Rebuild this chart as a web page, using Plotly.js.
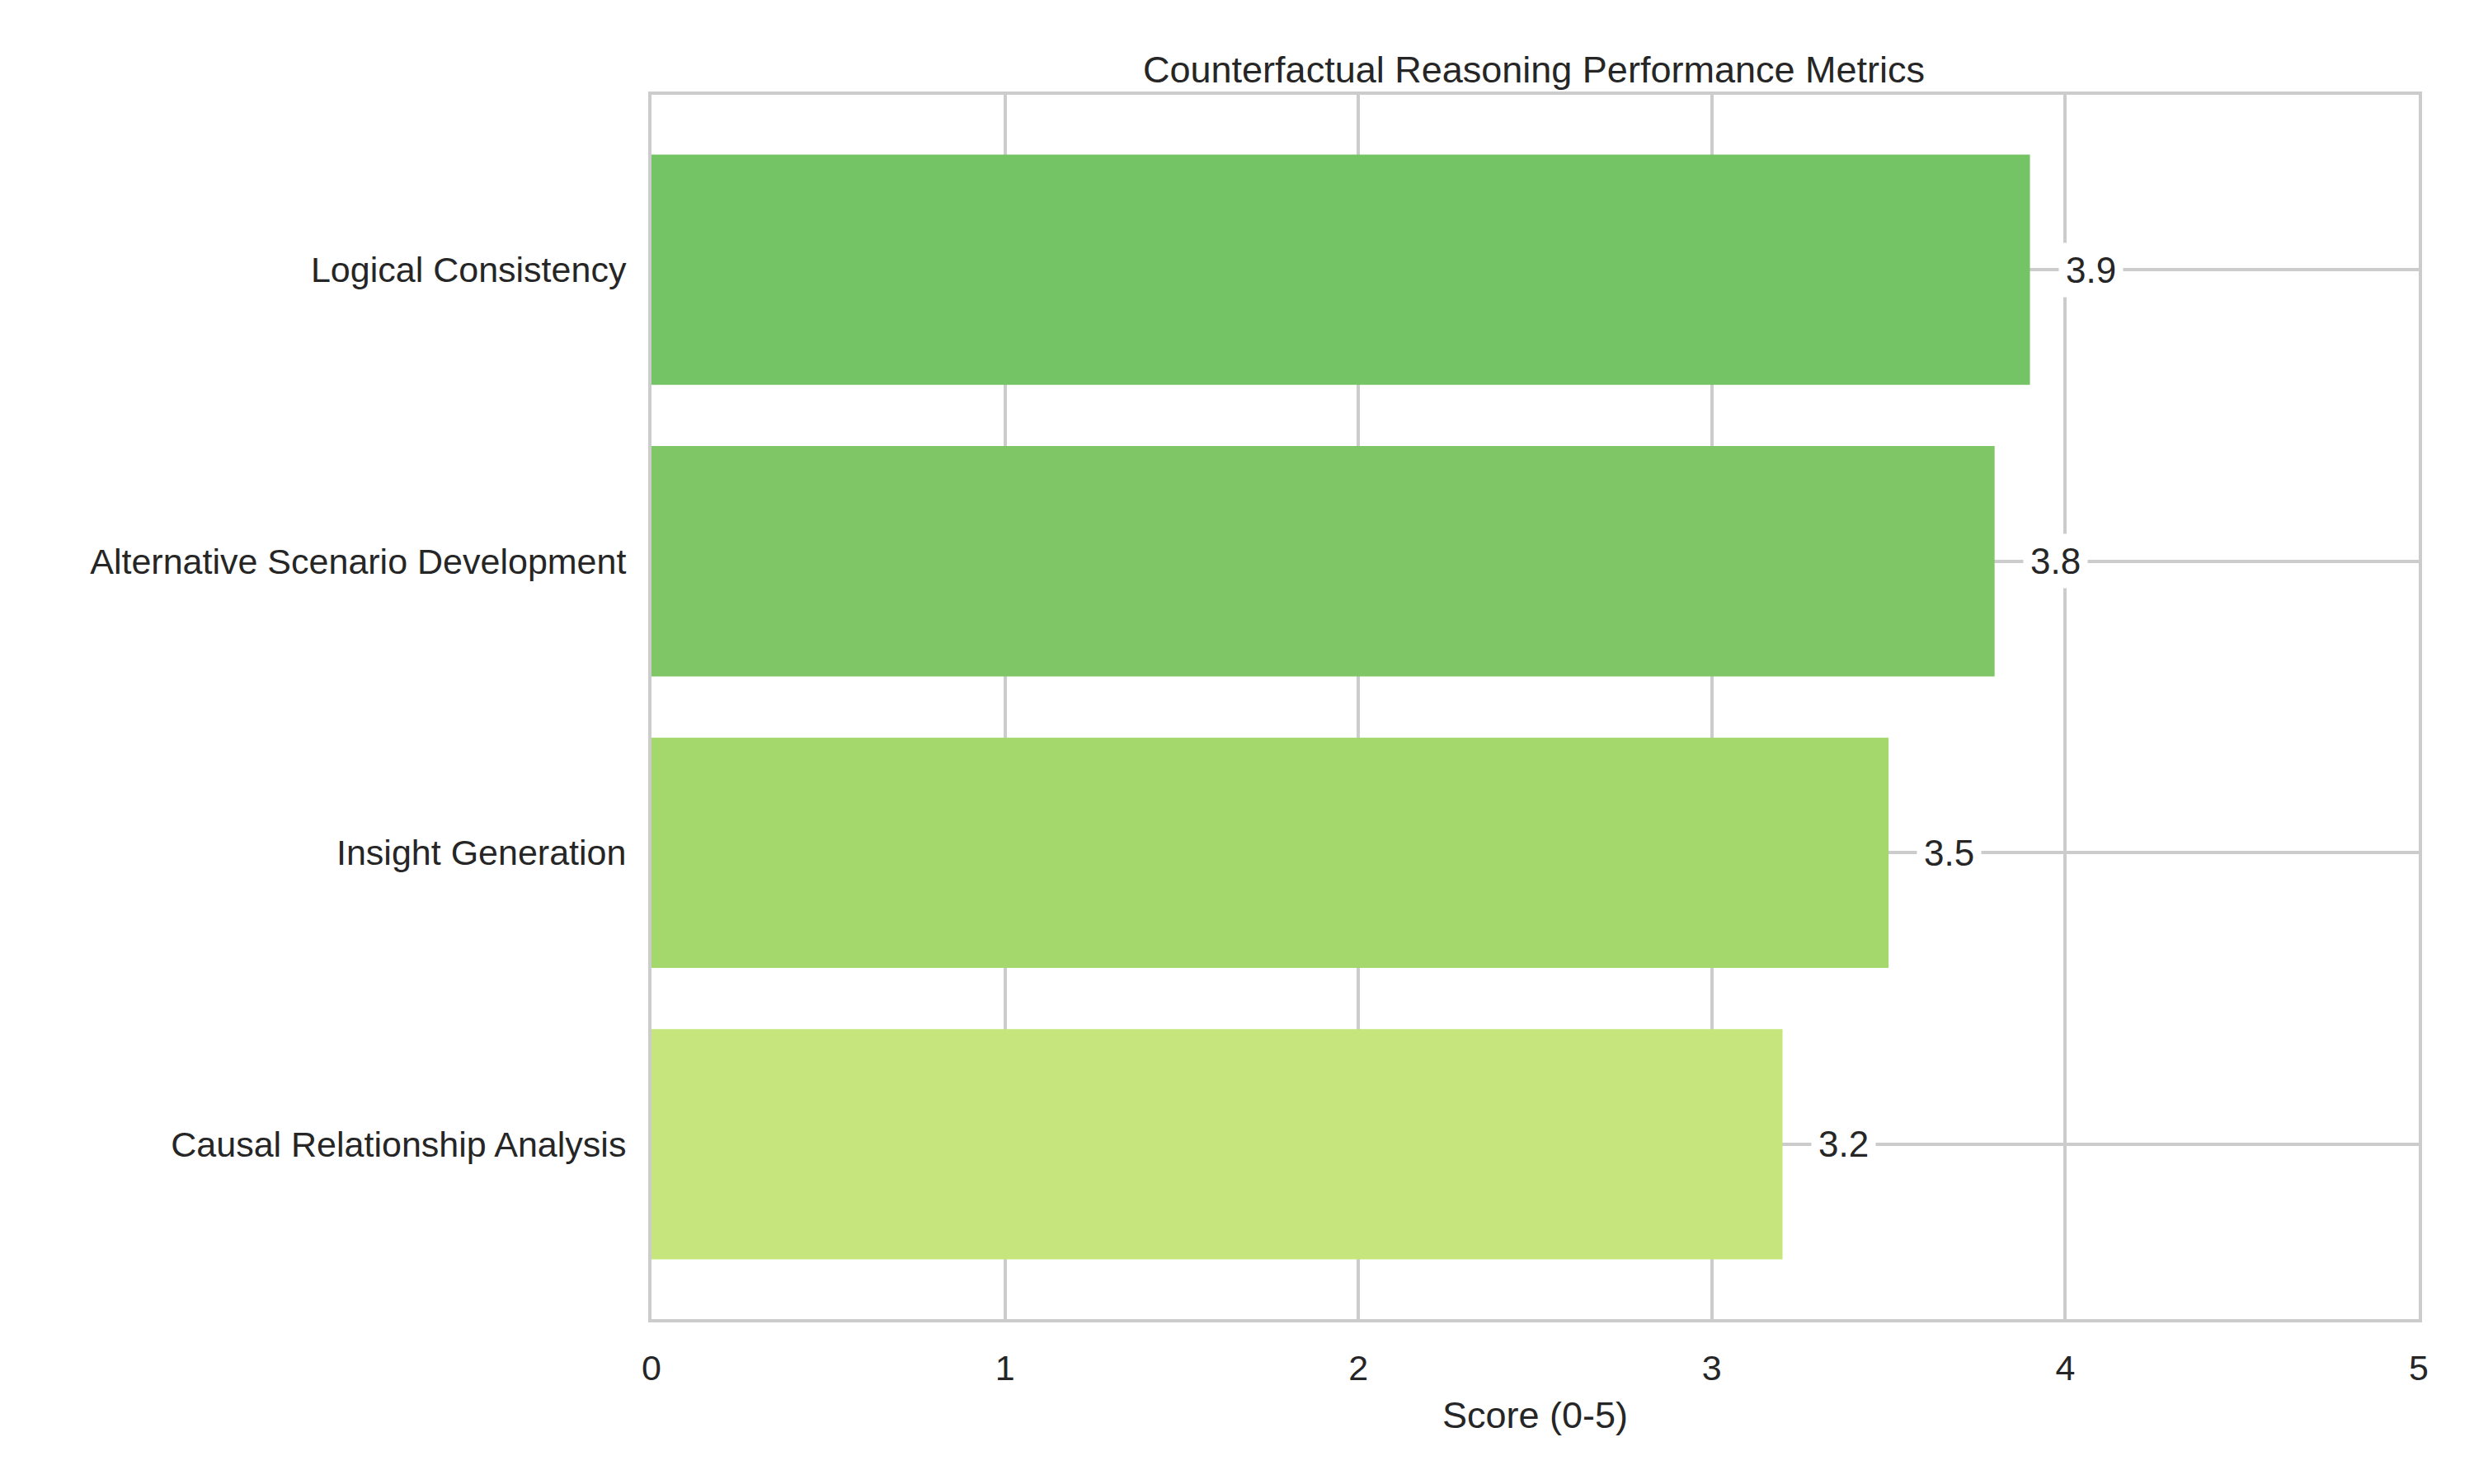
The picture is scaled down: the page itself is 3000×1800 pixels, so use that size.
<!DOCTYPE html>
<html><head><script src="https://cdn.plot.ly/plotly-3.0.1.min.js"></script>
<style>body{margin:0}</style></head><body>
<div id="c" style="width:3000px;height:1800px"></div>
<script>
const categories = ["Causal Relationship Analysis","Insight Generation","Alternative Scenario Development","Logical Consistency"];
const scores = [3.2, 3.5, 3.8, 3.9];
const colors = ["#c6e57d","#a5d86c","#7fc766","#74c365"];
const F = "Liberation Sans, Arial, sans-serif";
const ann = categories.map((c,i)=>({x:scores[i]+0.08,y:c,text:scores[i].toFixed(1),showarrow:false,xanchor:"left",
  font:{family:F,size:44,color:"#262626"},bgcolor:"white",borderpad:8}));
Plotly.newPlot("c",[{type:"bar",orientation:"h",y:categories,x:scores,marker:{color:colors},width:0.79,hoverinfo:"none"}],{
  width:3000,height:1800,margin:{l:790,r:67,t:115,b:200},
  paper_bgcolor:"white",plot_bgcolor:"white",
  title:{text:"Counterfactual Reasoning Performance Metrics",font:{family:F,size:45,color:"#262626"},x:0.62,xanchor:"center",y:0.962},
  xaxis:{range:[0,5],dtick:1,showgrid:true,gridcolor:"#cccccc",gridwidth:4,zeroline:false,showline:true,linecolor:"#cccccc",linewidth:4,mirror:true,
    tickfont:{family:F,size:43,color:"#262626"},ticks:"outside",ticklen:18,tickcolor:"white",title:{text:"Score (0-5)",font:{family:F,size:45,color:"#262626"},standoff:20}},
  yaxis:{showgrid:true,gridcolor:"#cccccc",gridwidth:4,showline:true,linecolor:"#cccccc",linewidth:4,mirror:true,range:[-0.6,3.6],
    tickfont:{family:F,size:43,color:"#262626"},ticks:"outside",ticklen:18,tickcolor:"white"},
  annotations:ann,showlegend:false
},{staticPlot:true});
</script></body></html>
